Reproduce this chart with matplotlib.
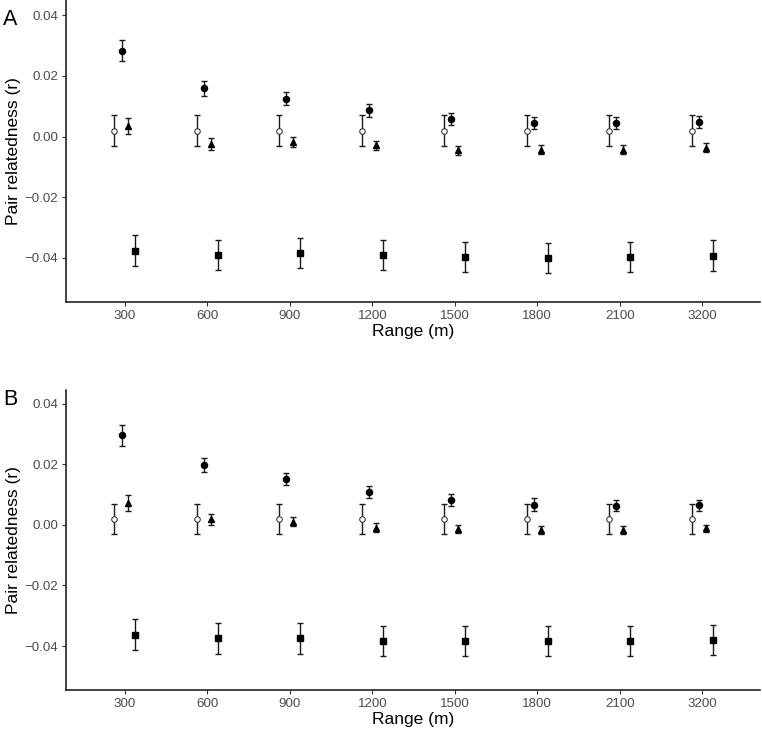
import matplotlib
matplotlib.use("Agg")
import matplotlib.pyplot as plt
import numpy as np

plt.rcParams['font.family'] = ['Liberation Sans', 'DejaVu Sans']

ranges = ["300", "600", "900", "1200", "1500", "1800", "2100", "3200"]

# Panel A
a_open = [0.002] * 8
a_open_err = [0.005] * 8
a_fill = [0.0283, 0.0159, 0.0125, 0.0086, 0.0057, 0.0046, 0.0046, 0.0048]
a_fill_err = [0.0035, 0.0025, 0.0022, 0.0021, 0.002, 0.002, 0.002, 0.002]
a_tri = [0.0034, -0.0025, -0.0018, -0.0028, -0.0045, -0.0043, -0.0043, -0.0036]
a_tri_err = [0.0027, 0.002, 0.0017, 0.0015, 0.0015, 0.0015, 0.0015, 0.0015]
a_sq = [-0.0376, -0.0391, -0.0384, -0.0390, -0.0397, -0.0399, -0.0396, -0.0392]
a_sq_err = [0.0051, 0.005, 0.005, 0.005, 0.005, 0.005, 0.005, 0.005]

# Panel B
b_open = [0.002] * 8
b_open_err = [0.005] * 8
b_fill = [0.0295, 0.0198, 0.0150, 0.0107, 0.0082, 0.0067, 0.0063, 0.0065]
b_fill_err = [0.0035, 0.0024, 0.002, 0.002, 0.002, 0.002, 0.0018, 0.0018]
b_tri = [0.0072, 0.0019, 0.0010, -0.0010, -0.0015, -0.0017, -0.0017, -0.0012]
b_tri_err = [0.0027, 0.0018, 0.0015, 0.0015, 0.0013, 0.0013, 0.0013, 0.0013]
b_sq = [-0.0362, -0.0375, -0.0375, -0.0384, -0.0384, -0.0384, -0.0384, -0.0380]
b_sq_err = [0.005, 0.005, 0.005, 0.005, 0.005, 0.005, 0.005, 0.005]

W, H = 762, 734
fig = plt.figure(figsize=(W / 100, H / 100), dpi=100)
axA = fig.add_axes([66 / W, 1 - 302 / H, (760 - 66) / W, 302 / H])
axB = fig.add_axes([66 / W, 1 - 690 / H, (760 - 66) / W, 300 / H])

x = np.arange(1, len(ranges) + 1)
offs = [-0.128, -0.042, 0.042, 0.125]

def draw(ax, series, ylim):
    styles = [
        dict(marker='o', mfc='white', mec='#222222', ms=4.0, mew=0.7),
        dict(marker='o', mfc='black', mec='black', ms=4.4),
        dict(marker='^', mfc='black', mec='black', ms=4.8),
        dict(marker='s', mfc='black', mec='black', ms=4.0),
    ]
    for (vals, errs), off, st in zip(series, offs, styles):
        ax.errorbar(x + off, vals, yerr=errs, fmt='none', ecolor='#1a1a1a',
                    elinewidth=1.0, capsize=2.0, capthick=1.0, zorder=2)
        ax.plot(x + off, vals, linestyle='none', zorder=3, **st)
    ax.set_xlim(0.285, 8.7)
    ax.set_ylim(*ylim)
    ax.set_yticks([-0.04, -0.02, 0.0, 0.02, 0.04])
    ax.set_yticklabels(["\u22120.04", "\u22120.02", "0.00", "0.02", "0.04"])
    ax.set_xticks(x)
    ax.set_xticklabels(ranges)
    for s in ['top', 'right']:
        ax.spines[s].set_visible(False)
    for s in ['left', 'bottom']:
        ax.spines[s].set_linewidth(1.1)
        ax.spines[s].set_color('#111111')
    ax.tick_params(axis='both', labelsize=9.6, colors='#333333', length=3,
                   width=0.8, labelcolor='#4d4d4d', pad=2.5)
    ax.set_ylabel("Pair relatedness (r)", fontsize=12.5, labelpad=3)
    ax.set_xlabel("Range (m)", fontsize=12.5, labelpad=2)

draw(axA, [(a_open, a_open_err), (a_fill, a_fill_err), (a_tri, a_tri_err), (a_sq, a_sq_err)],
     (-0.0545, 0.0450))
draw(axB, [(b_open, b_open_err), (b_fill, b_fill_err), (b_tri, b_tri_err), (b_sq, b_sq_err)],
     (-0.0545, 0.0445))

fig.text(3 / W, 1 - 25 / H, "A", fontsize=15.5, ha='left', va='baseline')
fig.text(3 / W, 1 - 405 / H, "B", fontsize=15.5, ha='left', va='baseline')

fig.savefig("out.png", dpi=100)
